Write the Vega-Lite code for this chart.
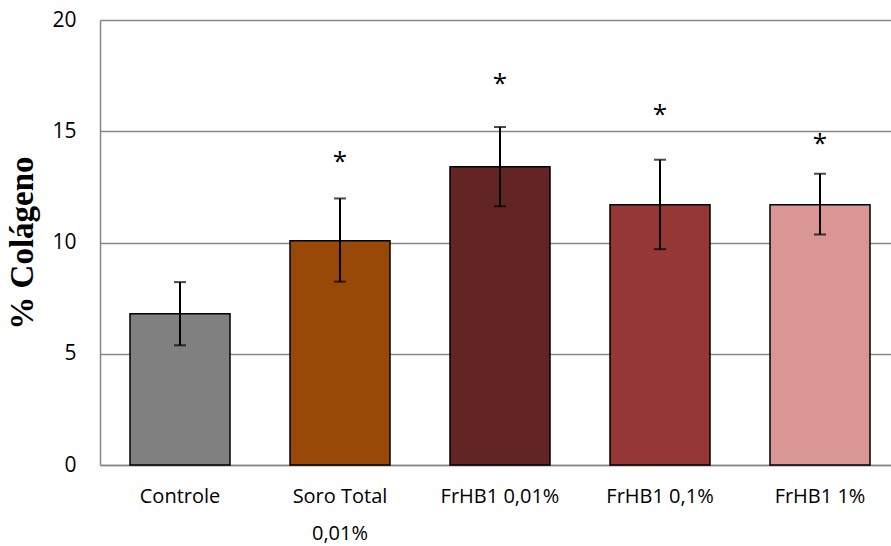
{
  "$schema": "https://vega.github.io/schema/vega-lite/v6.json",
  "width": 791,
  "height": 445,
  "autosize": {"type": "none"},
  "padding": {"left": 100, "top": 20, "right": 0, "bottom": 81},
  "background": "white",
  "config": {"view": {"stroke": null}},
  "data": {
    "values": [
      {"grupo": "Controle", "valor": 6.8, "lo": 5.38, "hi": 8.22, "ast": null},
      {"grupo": "Soro Total 0,01%", "valor": 10.08, "lo": 8.24, "hi": 11.98, "ast": 13.83},
      {"grupo": "FrHB1 0,01%", "valor": 13.4, "lo": 11.63, "hi": 15.19, "ast": 17.33},
      {"grupo": "FrHB1 0,1%", "valor": 11.7, "lo": 9.7, "hi": 13.72, "ast": 15.95},
      {"grupo": "FrHB1 1%", "valor": 11.7, "lo": 10.36, "hi": 13.09, "ast": 14.67}
    ]
  },
  "encoding": {
    "x": {
      "field": "grupo",
      "type": "nominal",
      "sort": null,
      "scale": {"range": [0, 800], "paddingInner": 0.375, "paddingOuter": 0.1875},
      "axis": {
        "title": null,
        "labelAngle": 0,
        "labelFont": "Open Sans",
        "labelFontSize": 20,
        "labelColor": "#000000",
        "labelPadding": 21,
        "labelLineHeight": 37,
        "labelBaseline": "top",
        "ticks": false,
        "domainColor": "#868686",
        "domainWidth": 1.5,
        "labelExpr": "datum.label == 'Soro Total 0,01%' ? ['Soro Total', '0,01%'] : datum.label"
      }
    }
  },
  "layer": [
    {
      "mark": {"type": "bar", "stroke": "#000000", "strokeWidth": 1.5},
      "encoding": {
        "y": {
          "field": "valor",
          "type": "quantitative",
          "scale": {"domain": [0, 20], "nice": false},
          "axis": {
            "title": "% Colágeno",
            "titleFont": "Liberation Serif",
            "titleFontSize": 33,
            "titleFontWeight": "bold",
            "titleColor": "#000000",
            "titlePadding": 12,
            "values": [0, 5, 10, 15, 20],
            "labelFont": "Open Sans",
            "labelFontSize": 21,
            "labelColor": "#000000",
            "labelPadding": 24,
            "ticks": false,
            "grid": true,
            "gridColor": "#868686",
            "gridWidth": 1.5,
            "domainColor": "#868686",
            "domainWidth": 1.5
          }
        },
        "color": {
          "field": "grupo",
          "type": "nominal",
          "legend": null,
          "scale": {
            "domain": ["Controle", "Soro Total 0,01%", "FrHB1 0,01%", "FrHB1 0,1%", "FrHB1 1%"],
            "range": ["#808080", "#984807", "#632523", "#953735", "#D99694"]
          }
        }
      }
    },
    {
      "mark": {"type": "rule", "color": "#000000", "strokeWidth": 2},
      "encoding": {
        "y": {"field": "lo", "type": "quantitative"},
        "y2": {"field": "hi"}
      }
    },
    {
      "mark": {"type": "tick", "color": "#000000", "size": 12, "thickness": 2},
      "encoding": {"y": {"field": "lo", "type": "quantitative"}}
    },
    {
      "mark": {"type": "tick", "color": "#000000", "size": 12, "thickness": 2},
      "encoding": {"y": {"field": "hi", "type": "quantitative"}}
    },
    {
      "transform": [{"filter": "datum.ast != null"}],
      "mark": {"type": "text", "text": "*", "font": "Open Sans", "fontSize": 26, "color": "#000000", "baseline": "middle", "dy": 5},
      "encoding": {"y": {"field": "ast", "type": "quantitative"}}
    }
  ]
}
